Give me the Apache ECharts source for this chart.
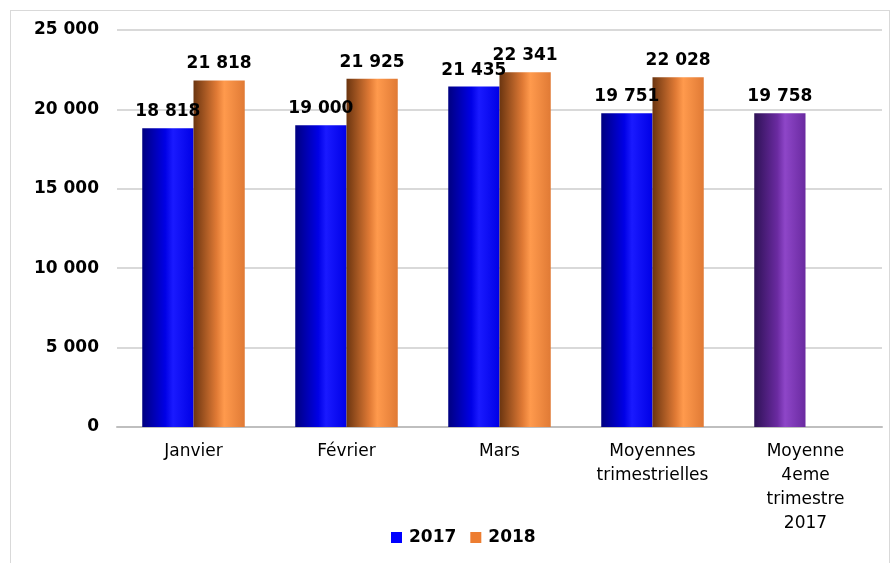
<!DOCTYPE html>
<html>
<head>
<meta charset="utf-8">
<script src="https://cdn.jsdelivr.net/npm/echarts@6/dist/echarts.min.js"></script>
<style>
  html, body { margin: 0; padding: 0; background: #fff; }
  #frame { position: absolute; left: 10px; top: 10px; width: 880px; height: 560px; border: 1px solid #d9d9d9; box-sizing: border-box; }
  #chart { position: absolute; left: 0; top: 0; width: 891px; height: 563px; }
</style>
</head>
<body>
<div id="frame"></div>
<div id="chart"></div>
<script>
const categories = ['Janvier', 'Février', 'Mars', 'Moyennes\ntrimestrielles', 'Moyenne\n4eme\ntrimestre\n2017']
const values2017 = [18818, 19000, 21435, 19751, 19758]
const values2018 = [21818, 21925, 22341, 22028, null]
const yTicks = { min: 0, max: 25000, interval: 5000 }

const chart = echarts.init(document.getElementById('chart'))

function grad(dark, mid, light) {
  return new echarts.graphic.LinearGradient(0, 0, 1, 0, [
    { offset: 0, color: dark },
    { offset: 0.45, color: mid },
    { offset: 0.6, color: light },
    { offset: 1, color: mid }
  ])
}

const blueFill = grad('#000080', '#0000e6', '#1a1aff')
const orangeFill = grad('#6b3510', '#e07a35', '#ff9a4d')
const purpleFill = grad('#2e1256', '#6a2aa0', '#8e46c8')

function fmt(v) {
  return String(v).replace(/\B(?=(\d{3})+(?!\d))/g, ' ')
}

const labelStyle = {
  show: true,
  position: 'top',
  distance: 8,
  fontFamily: 'DejaVu Sans',
  fontWeight: 'bold',
  fontSize: 17,
  color: '#000',
  formatter: p => fmt(p.value)
}

const option = {
  animation: false,
  grid: { left: 117, right: 9, top: 30, bottom: 136 },
  legend: {
    bottom: 12,
    left: 386,
    icon: 'rect',
    itemWidth: 11,
    itemHeight: 11,
    itemGap: 14,
    textStyle: { fontFamily: 'DejaVu Sans', fontWeight: 'bold', fontSize: 17, color: '#000', padding: [0, 0, 0, 2] },
    data: [
      { name: '2017', itemStyle: { color: '#0000ff' } },
      { name: '2018', itemStyle: { color: '#ed7d31' } }
    ]
  },
  xAxis: {
    type: 'category',
    data: categories,
    axisLine: { lineStyle: { color: '#bfbfbf', width: 2 } },
    axisTick: { show: false },
    axisLabel: {
      fontFamily: 'DejaVu Sans',
      fontSize: 17,
      color: '#000',
      margin: 13,
      lineHeight: 24,
      interval: 0
    }
  },
  yAxis: {
    type: 'value',
    min: yTicks.min,
    max: yTicks.max,
    interval: yTicks.interval,
    axisLine: { show: false },
    axisTick: { show: false },
    axisLabel: {
      fontFamily: 'DejaVu Sans',
      fontWeight: 'bold',
      fontSize: 17,
      color: '#000',
      margin: 18,
      formatter: v => fmt(v)
    },
    splitLine: { lineStyle: { color: '#d9d9d9', width: 2 } }
  },
  series: [
    {
      name: '2017',
      type: 'bar',
      barGap: '0%',
      barCategoryGap: '33%',
      data: values2017.map((v, i) => ({
        value: v,
        itemStyle: { color: i === 4 ? purpleFill : blueFill }
      })),
      label: labelStyle
    },
    {
      name: '2018',
      type: 'bar',
      data: values2018,
      itemStyle: { color: orangeFill },
      label: labelStyle
    }
  ]
}

chart.setOption(option)
</script>
</body>
</html>
